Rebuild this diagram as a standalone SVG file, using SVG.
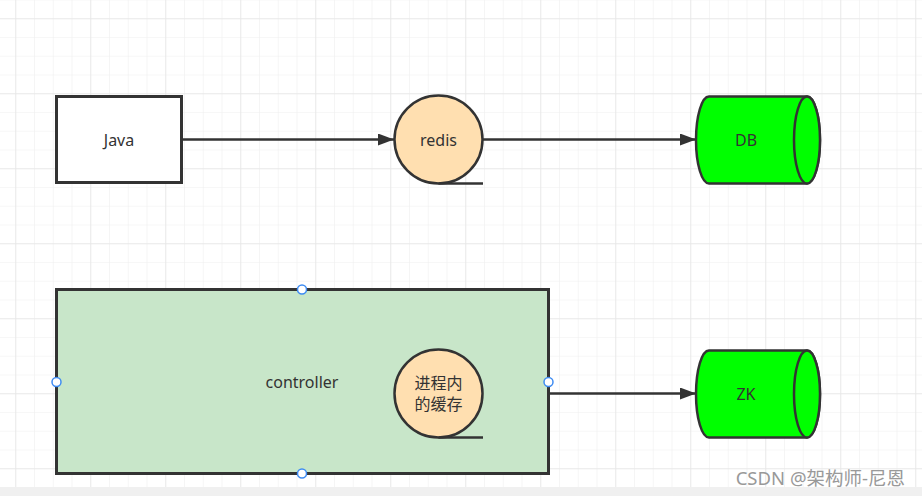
<svg xmlns="http://www.w3.org/2000/svg" width="922" height="496" viewBox="0 0 922 496">
<style>
.t{font-family:"Noto Sans","Noto Sans CJK SC",sans-serif;font-size:16px;fill:#333;text-anchor:middle;dominant-baseline:central}
.box{stroke:#333;stroke-width:3}
.tape{fill:#ffdfb0;stroke:#333;stroke-width:2.5}
.cyl{fill:#00ff00;stroke:#333;stroke-width:2.5}
.edge{stroke:#333;stroke-width:2.5;fill:none}
.h{fill:#fff;stroke:#3d8bf2;stroke-width:1.5}
</style>
<defs>
<pattern id="minor" width="18.75" height="18.75" patternUnits="userSpaceOnUse" x="15.25" y="18.25">
<path d="M0 0H18.75M0 0V18.75" stroke="#efefef" stroke-width="1.2" fill="none"/>
</pattern>
<pattern id="major" width="75" height="75" patternUnits="userSpaceOnUse" x="15.25" y="18.25">
<path d="M0 0H75M0 0V75" stroke="#e6e6e6" stroke-width="1.4" fill="none"/>
</pattern>
<marker id="arr" markerWidth="16" markerHeight="12" refX="16" refY="6" orient="auto" markerUnits="userSpaceOnUse">
<path d="M0 0L16 6L0 12Z" fill="#333"/>
</marker>
</defs>
<rect width="922" height="496" fill="#fff"/>
<rect width="922" height="487" fill="url(#minor)"/>
<rect width="922" height="487" fill="url(#major)"/>
<rect y="487" width="922" height="9" fill="#f0f0f0"/>

<g id="connectors">
<path class="edge" d="M183 139.5H394" marker-end="url(#arr)"/>
<path class="edge" d="M483 139.5H696" marker-end="url(#arr)"/>
<path class="edge" d="M483 393.5H696" marker-end="url(#arr)"/>
</g>

<g id="java">
<rect class="box" x="56.5" y="96.5" width="125" height="86" fill="#fff"/>
<text class="t" x="119" y="140">Java</text>
</g>

<g id="redis">
<circle class="tape" cx="438.5" cy="139.5" r="44"/>
<path class="edge" d="M438.5 183.5H483"/>
<text class="t" x="438.5" y="140">redis</text>
</g>

<g id="db">
<path class="cyl" d="M709 96.5H807A13 43.5 0 0 1 807 183.5H709A13 43.5 0 0 1 709 96.5Z"/>
<ellipse class="cyl" cx="807" cy="140" rx="13" ry="43.5"/>
<text class="t" x="746" y="140">DB</text>
</g>

<g id="controller">
<rect class="box" x="56.5" y="289.5" width="492" height="184" fill="#c8e6c9"/>
<text class="t" x="302" y="382">controller</text>
<circle class="h" cx="302" cy="289.5" r="4.5"/>
<circle class="h" cx="56.5" cy="382" r="4.5"/>
<circle class="h" cx="548.5" cy="382" r="4.5"/>
<circle class="h" cx="302" cy="473.5" r="4.5"/>
</g>

<g id="cache">
<circle class="tape" cx="438.5" cy="393.5" r="44"/>
<path class="edge" d="M438.5 437.5H483"/>
<text class="t" x="438.5" y="383">进程内</text>
<text class="t" x="438.5" y="404">的缓存</text>
</g>

<g id="zk">
<path class="cyl" d="M709 350.5H807A13 43.5 0 0 1 807 437.5H709A13 43.5 0 0 1 709 350.5Z"/>
<ellipse class="cyl" cx="807" cy="394" rx="13" ry="43.5"/>
<text class="t" x="746" y="394">ZK</text>
</g>

<text x="905" y="485" font-family="'Noto Sans','Noto Sans CJK SC',sans-serif" font-size="18.5" fill="#999" text-anchor="end">CSDN @架构师-尼恩</text>
</svg>
